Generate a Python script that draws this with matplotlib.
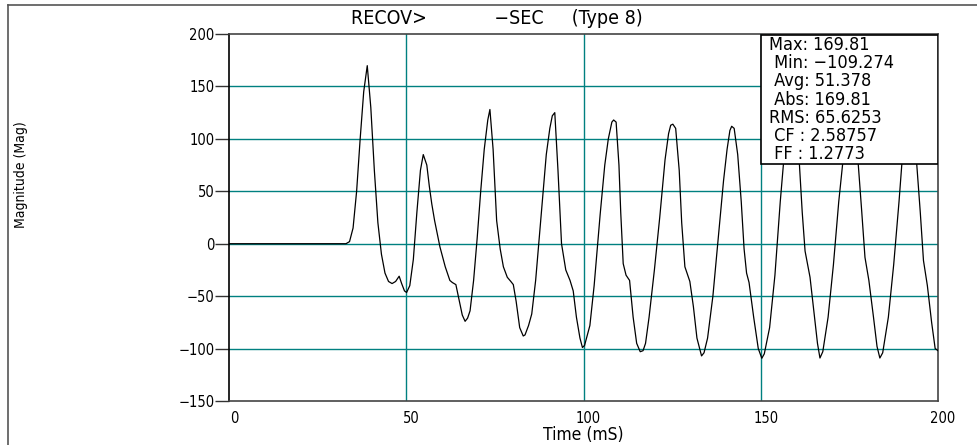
import matplotlib
matplotlib.use("Agg")
from matplotlib import pyplot as plt
from matplotlib.lines import Line2D
from matplotlib.transforms import ScaledTranslation
import numpy as np

plt.rcParams['font.family'] = ['DejaVu Sans']
plt.rcParams['font.stretch'] = 'condensed'

# waveform (time in mS, magnitude in Mag)
time_ms = [0, 5, 10, 15, 20, 25, 30, 33, 34, 35, 36, 37, 38, 39, 40, 41, 42, 43,
           44, 45, 46, 47, 48, 48.7, 49.5, 50.1, 51, 52, 53, 54, 54.8, 55.8, 56.5,
           57.2, 58, 59.5, 61, 62.3, 63, 64, 65, 65.8, 66.6, 67.3, 68, 69, 70, 71,
           72, 73, 73.6, 74.5, 75.5, 76.5, 77.4, 78.5, 79.5, 80.2, 81, 82, 83, 83.5,
           84.5, 85.4, 86.5, 87.5, 88.5, 89.5, 90.5, 91.2, 91.9, 92.8, 93.8, 95,
           96.2, 97.1, 98, 99, 99.7, 100.3, 101, 101.8, 103, 104.7, 106, 107, 108,
           108.5, 109.2, 110, 110.5, 111.2, 112, 113, 114, 115, 116, 116.8, 117.5,
           118.5, 120, 121.5, 123, 124, 124.6, 125.2, 126, 127, 127.7, 128.6, 130,
           131, 132, 133.3, 134, 135, 136.5, 138, 139.5, 140.5, 141.3, 141.8, 142.5,
           143.5, 144.5, 145.3, 146, 146.7, 148, 149.3, 150.3, 151, 152.5, 154,
           155.5, 156.4, 157.5, 158.5, 159.5, 160.3, 160.9, 161.7, 162.5, 163.9,
           165, 166, 166.7, 167.5, 169, 170.5, 172, 173.1, 174.2, 175.2, 176.3,
           177.5, 178.5, 179.4, 180.5, 181.8, 182.8, 183.6, 184.4, 186, 187.5, 189,
           189.8, 190.8, 191.8, 192.8, 194, 195, 195.9, 197, 198.2, 199.2, 200]
magnitude = [0, 0, 0, 0, 0, 0, 0, 0, 2, 15, 50, 100, 145, 169.81, 130, 70, 20, -10,
             -28, -36, -38, -36, -31, -38, -45, -46.5, -40, -15, 30, 70, 85, 75, 55,
             38, 22, -3, -22, -35, -37, -39, -55, -68, -74, -71, -64, -35, 5, 50,
             90, 118, 128, 90, 22, -5, -22, -32, -36, -39, -55, -80, -88, -87,
             -78, -67, -35, 5, 45, 85, 110, 122, 125, 70, 0, -25,
             -35, -45, -70, -90, -99, -97, -88, -78, -40, 28, 75, 100, 116,
             118, 116, 75, 30, -19, -30, -35, -70, -95, -103, -102, -95,
             -70, -25, 25, 80, 105, 113, 114, 110, 70, 20, -22, -36,
             -60, -90, -107, -104, -90, -50, 5, 60, 90, 108, 112, 110,
             85, 40, -5, -28, -37, -70, -100, -109.274, -105, -80, -30,
             40, 76, 100, 110, 105, 85, 76, 30, -7, -32,
             -65, -95, -109, -103, -70, -20, 40, 76, 100, 108, 100,
             76, 30, -13, -35, -70, -98, -109, -104, -70, -20, 40,
             76, 98, 106, 100, 76, 30, -16, -40, -75, -100, -102]

x_ticks = [0, 50, 100, 150, 200]
y_ticks = [-150, -100, -50, 0, 50, 100, 150, 200]

stat_names = ["Max:", " Min:", " Avg:", " Abs:", "RMS:", " CF :", " FF :"]
stat_values = ["169.81", "\u2212109.274", "51.378", "169.81", "65.6253", "2.58757", "1.2773"]

W, H = 977, 445
fig = plt.figure(figsize=(W / 100, H / 100), dpi=100)
ax = fig.add_axes([229 / W, 1 - 401 / H, (938 - 229) / W, (401 - 34) / H])

teal = '#008080'
for v in x_ticks[1:-1]:
    ax.axvline(v, color=teal, lw=1, zorder=1)
for v in y_ticks[1:-1]:
    ax.axhline(v, color=teal, lw=1, zorder=1)

ax.plot(time_ms, magnitude, color='black', lw=0.9, zorder=3)

ax.set_xlim(0, 200)
ax.set_ylim(-150, 200)
ax.set_xticks(x_ticks)
ax.set_yticks(y_ticks)
ax.tick_params(axis='x', length=0, pad=7, labelsize=10.5)
ax.tick_params(axis='y', length=10, width=1, color='#333333', labelsize=10.5, pad=0.5)
shift = ScaledTranslation(5 / 100, 0, fig.dpi_scale_trans)
for lbl in ax.get_xticklabels():
    lbl.set_transform(lbl.get_transform() + shift)

ax.spines['left'].set_color('black')
for s in ['top', 'right', 'bottom']:
    ax.spines[s].set_color('#444444')
for s in ax.spines.values():
    s.set_linewidth(1.2)

fig.text(583 / W, 1 - 435 / H, 'Time (mS)', fontsize=12.5, ha='center', va='center')
fig.text(21 / W, 1 - 175 / H, 'Magnitude (Mag)', rotation=90, fontsize=10,
         ha='center', va='center')
fig.text(497 / W, 1 - 18 / H, 'RECOV>            \u2212SEC     (Type 8)', fontsize=14,
         ha='center', va='center')

# stats box
box_l, box_b = 0.750, 0.646
ax.add_patch(plt.Rectangle((box_l, box_b), 1 - box_l, 0.997 - box_b,
                           transform=ax.transAxes, facecolor='white',
                           edgecolor='black', lw=1.2, zorder=5))
for i, (n, v) in enumerate(zip(stat_names, stat_values)):
    y = 1 - (45 + i * 18.2) / H
    fig.text(769 / W, y, n + ' ' + v, fontsize=13, ha='left', va='center', zorder=6)

# outer frame
fig.add_artist(Line2D([8 / W, 8 / W], [0, 1 - 5 / H], color='#555555', lw=1.2))
fig.add_artist(Line2D([8 / W, 1], [1 - 5 / H, 1 - 5 / H], color='#555555', lw=1.2))

fig.savefig('out.png', dpi=100)
